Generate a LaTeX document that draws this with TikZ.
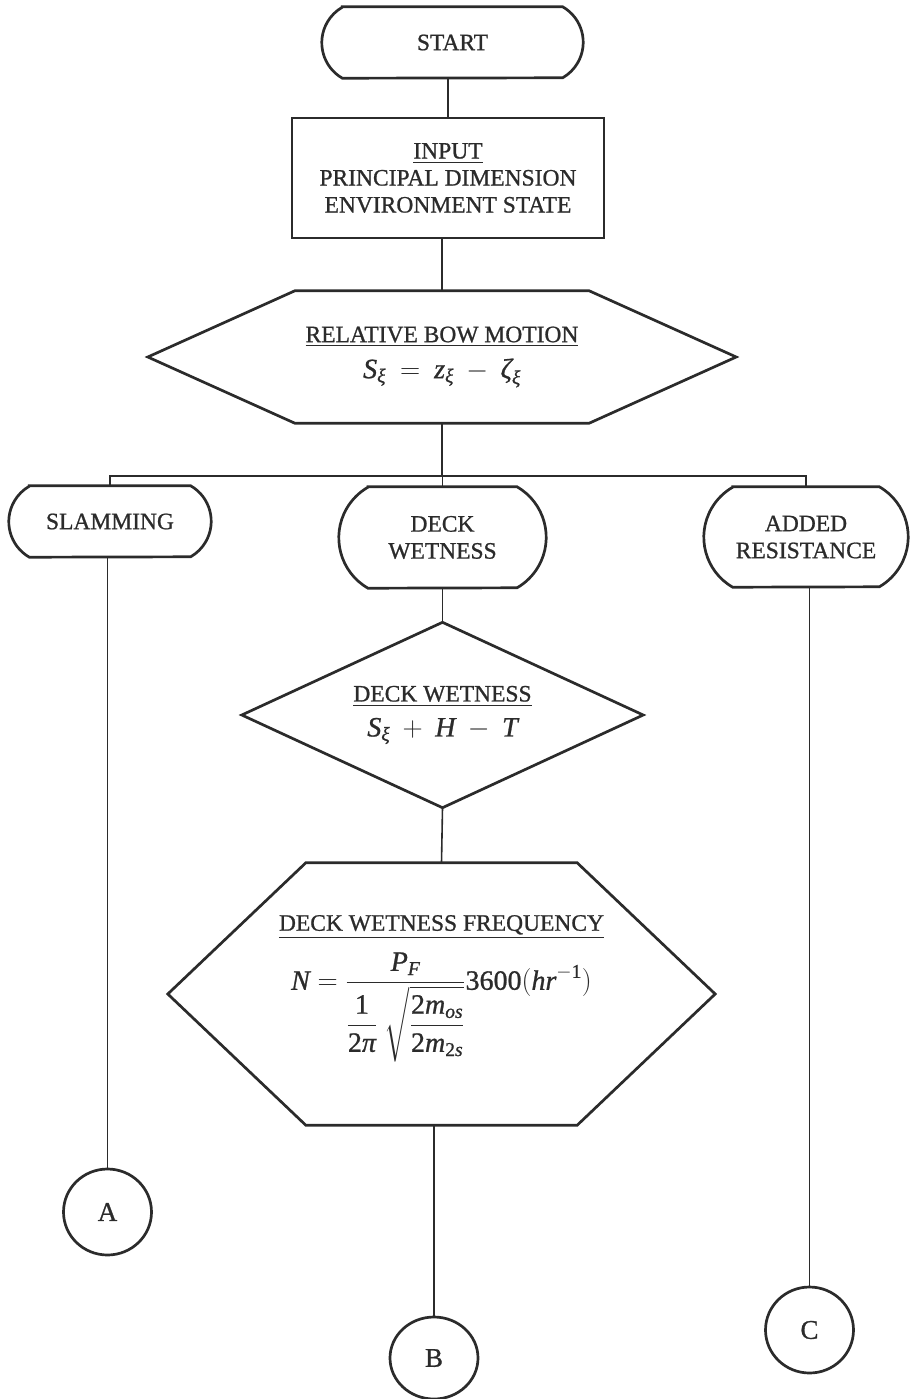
\RequirePackage{fix-cm}
\documentclass[tikz,border=0pt]{standalone}
\usepackage{amsmath}
\usepackage{fontspec}
\setmainfont{Liberation Serif}[FakeBold=0.9]
\usetikzlibrary{calc,shapes.geometric}

\definecolor{ink}{HTML}{2B2B2B}

\tikzset{
  every node/.style={text=ink, align=center, inner sep=0pt,
    font=\fontsize{23.5}{27}\selectfont},
  box/.style={rectangle, draw=none},
  frame/.style={draw=ink, line width=2.7pt, line join=miter},
  link/.style={draw=ink, line width=1.6pt},
  connector/.style={ellipse, draw=ink, line width=2.7pt,
    minimum width=88pt, minimum height=86pt, font=\fontsize{27}{30}\selectfont}
}

\newcommand\formulasize{\fontsize{28}{33}\selectfont}
% italic and upright symbols in formulas, taken from the text font
\newcommand\mi[1]{\textit{#1}}
\newcommand\nm[1]{\textrm{#1}}

% terminal outline: straight top and bottom, 120-degree arcs at the ends
\newcommand\termframe[2]{%
  \pgfmathsetmacro\frmr{#2/sqrt(3)}%
  \pgfmathsetmacro\frmb{\frmr/2}%
  \draw[frame] ($(#1.north west)+(\frmb pt,0pt)$) -- ($(#1.north east)+(-\frmb pt,0pt)$)
    arc[start angle=60, end angle=-60, radius=\frmr pt]
    -- ($(#1.south west)+(\frmb pt,0pt)$)
    arc[start angle=240, end angle=120, radius=\frmr pt] -- cycle;}

% hexagon outline with pointed left and right ends
\newcommand\hexframe[2]{%
  \draw[frame] (#1.west) -- ($(#1.north west)+(#2pt,0pt)$)
    -- ($(#1.north east)+(-#2pt,0pt)$) -- (#1.east)
    -- ($(#1.south east)+(-#2pt,0pt)$) -- ($(#1.south west)+(#2pt,0pt)$) -- cycle;}

\begin{document}
\begin{tikzpicture}[x=1pt, y=1pt]
\useasboundingbox (0,0) rectangle (911,-1399);

% start and input
\node[box, minimum width=261pt, minimum height=71pt] (start) at (452.5,-42.5) {START};
\termframe{start}{71}

\node[box, frame, minimum width=312pt, minimum height=120pt] (input) at (448,-178)
  {\underline{INPUT}\\PRINCIPAL DIMENSION\\ENVIRONMENT STATE};

% relative bow motion
\node[box, minimum width=588pt, minimum height=132pt] (rbm) at (442,-357)
  {\underline{RELATIVE BOW MOTION}\\[9pt]
   {\formulasize$\mi{S}_{\mi{ξ}} \:=\: \mi{z}_{\mi{ξ}} \:-\: \mi{ζ}_{\mi{ξ}}$}};
\hexframe{rbm}{147}

% three responses
\node[box, minimum width=202pt, minimum height=71pt] (slam) at (110,-521.5) {SLAMMING};
\termframe{slam}{71}

\node[box, minimum width=207pt, minimum height=101pt] (deck) at (442.5,-537.5) {DECK\\WETNESS};
\termframe{deck}{101}

\node[box, minimum width=204pt, minimum height=100pt] (added) at (806,-537) {ADDED\\RESISTANCE};
\termframe{added}{100}

% deck wetness criterion
\node[box, minimum width=401pt, minimum height=185pt] (dwd) at (442.5,-715)
  {\underline{DECK WETNESS}\\[8pt]{\formulasize$\mi{S}_{\mi{ξ}} \:+\: \mi{H} \:-\: \mi{T}$}};
\draw[frame] (dwd.north) -- (dwd.east) -- (dwd.south) -- (dwd.west) -- cycle;

% deck wetness frequency
\node[box, minimum width=547pt, minimum height=262pt] (dwf) at (441.5,-994)
  {\underline{DECK WETNESS FREQUENCY}\\[12pt]
   {\formulasize$\displaystyle \mi{N} = \frac{\mi{P}_{\mi{F}}}
      {\dfrac{\nm{1}}{\nm{2}\mi{π}}\;\sqrt{\dfrac{\nm{2}\mi{m}_{\mi{os}}}{\nm{2}\mi{m}_{\nm{2}\mi{s}}}}}
      \nm{3600}(\mi{hr}^{-\nm{1}})$}\\[10pt]\mbox{}};
\hexframe{dwf}{138}

% off-page connectors
\node[connector] (A) at (107.5,-1212) {A};
\node[connector, minimum height=82pt] (B) at (434,-1358) {B};
\node[connector] (C) at (809.5,-1330) {C};

% flow lines
\coordinate (bus) at (0,-476);
\draw[link] (input.north) -- (input.north |- start.south);
\draw[link] (rbm.north) -- (rbm.north |- input.south);
\draw[link] (rbm.south) -- (rbm.south |- bus);
\draw[link] (slam.north) |- (bus -| added.north) -- (added.north);
\draw[link] (deck.north) -- (deck.north |- bus);
\draw[link] (deck.south) -- (dwd.north);
\draw[link] (dwd.south) -- (dwf.north);
\draw[link] (A.north) -- (A.north |- slam.south);
\draw[link] (B.north) -- (B.north |- dwf.south);
\draw[link] (C.north) -- (C.north |- added.south);
\end{tikzpicture}
\end{document}
